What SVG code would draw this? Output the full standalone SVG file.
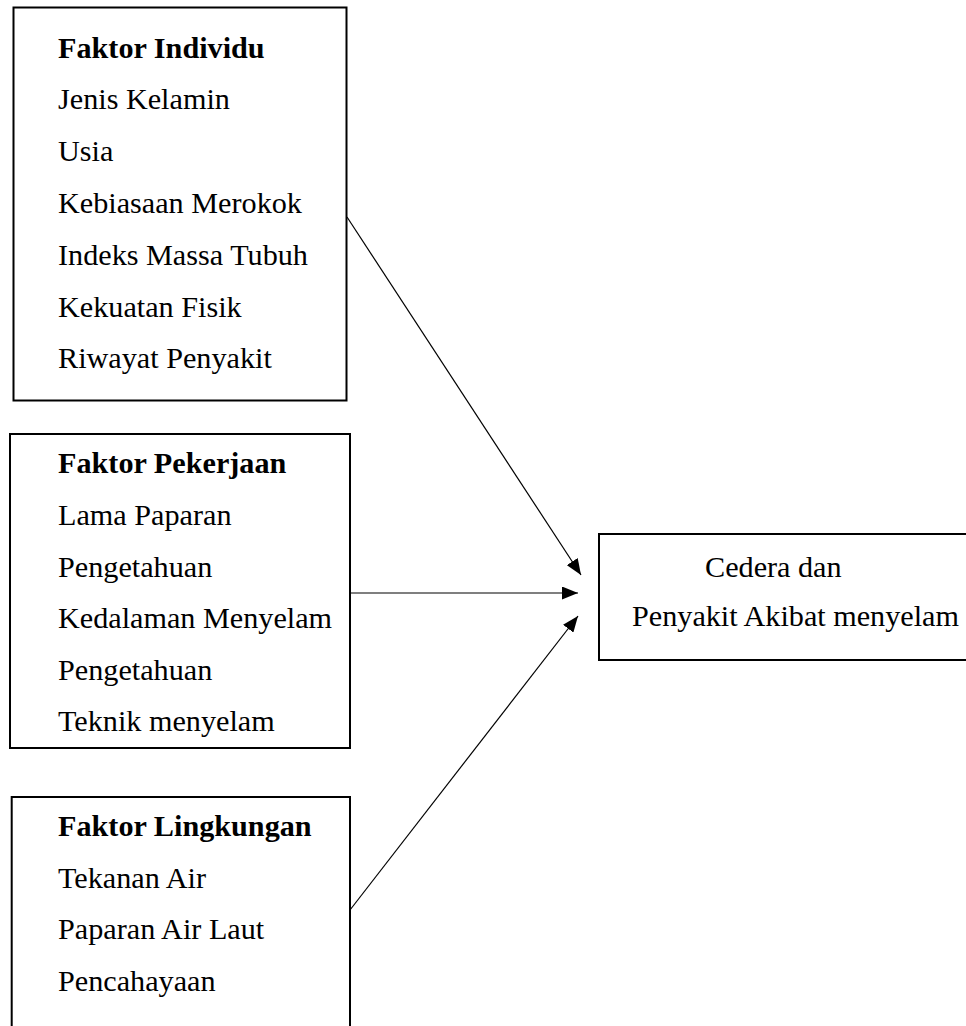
<svg xmlns="http://www.w3.org/2000/svg" width="966" height="1026" viewBox="0 0 966 1026">
<style>
.box{fill:#fff;stroke:#000;stroke-width:2}
.t{font-family:"Liberation Serif","Times New Roman",serif;font-size:30.2px;fill:#000}
.h{font-weight:bold}
.c{stroke:#000;stroke-width:1.2;fill:none}
</style>
<defs>
<marker id="arr" viewBox="0 0 16 13" refX="16" refY="6.5" markerWidth="16" markerHeight="13" markerUnits="userSpaceOnUse" orient="auto">
<path d="M0,0 L16,6.5 L0,13 z" fill="#000"/>
</marker>
</defs>
<rect width="966" height="1026" fill="#fff"/>
<g id="faktor-individu">
<rect class="box" x="13.5" y="7.5" width="333" height="393"/>
<text class="t h" x="58" y="57.5">Faktor Individu</text>
<text class="t" x="58" y="109.3">Jenis Kelamin</text>
<text class="t" x="58" y="161">Usia</text>
<text class="t" x="58" y="213">Kebiasaan Merokok</text>
<text class="t" x="58" y="264.7">Indeks Massa Tubuh</text>
<text class="t" x="58" y="316.5">Kekuatan Fisik</text>
<text class="t" x="58" y="368">Riwayat Penyakit</text>
</g>
<g id="faktor-pekerjaan">
<rect class="box" x="10" y="434" width="340" height="314"/>
<text class="t h" x="58" y="473">Faktor Pekerjaan</text>
<text class="t" x="58" y="525">Lama Paparan</text>
<text class="t" x="58" y="577">Pengetahuan</text>
<text class="t" x="58" y="628">Kedalaman Menyelam</text>
<text class="t" x="58" y="680">Pengetahuan</text>
<text class="t" x="58" y="731">Teknik menyelam</text>
</g>
<g id="faktor-lingkungan">
<rect class="box" x="11.7" y="797" width="338.3" height="300"/>
<text class="t h" x="58" y="836">Faktor Lingkungan</text>
<text class="t" x="58" y="888">Tekanan Air</text>
<text class="t" x="58" y="939">Paparan Air Laut</text>
<text class="t" x="58" y="991">Pencahayaan</text>
</g>
<g id="cedera">
<rect class="box" x="599" y="534" width="380" height="126"/>
<text class="t" x="705" y="577">Cedera dan</text>
<text class="t" x="632" y="626">Penyakit Akibat menyelam</text>
</g>
<g id="connectors">
<line class="c" x1="347" y1="217" x2="581" y2="575" marker-end="url(#arr)"/>
<line class="c" x1="350" y1="593" x2="578" y2="593" marker-end="url(#arr)"/>
<line class="c" x1="350" y1="910" x2="578" y2="616" marker-end="url(#arr)"/>
</g>
</svg>
